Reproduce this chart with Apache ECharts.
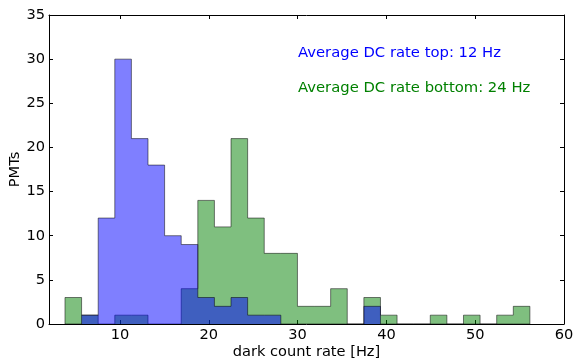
<!DOCTYPE html>
<html>
<head>
<meta charset="utf-8">
<script src="https://cdn.jsdelivr.net/npm/echarts@6/dist/echarts.min.js"></script>
<style>
  html, body { margin: 0; padding: 0; background: #fff; }
  #chart { width: 574px; height: 359px; }
</style>
</head>
<body>
<div id="chart"></div>
<script>
// Shared histogram bin edges (Hz)
const binEdges = [3.80, 5.67, 7.54, 9.41, 11.28, 13.15, 15.02, 16.89, 18.76, 20.63,
                  22.50, 24.37, 26.24, 28.11, 29.98, 31.85, 33.72, 35.59, 37.46, 39.33,
                  41.20, 43.07, 44.94, 46.81, 48.68, 50.55, 52.42, 54.29, 56.16];
// PMT counts per bin, top array
const topCounts = [0, 1, 12, 30, 21, 18, 10, 9, 3, 2, 3, 1, 1, 0, 0, 0, 0, 0, 2, 0,
                   0, 0, 0, 0, 0, 0, 0, 0];
// PMT counts per bin, bottom array
const bottomCounts = [3, 1, 0, 1, 1, 0, 0, 4, 14, 11, 21, 12, 8, 8, 2, 2, 4, 0, 3, 1,
                      0, 0, 1, 0, 1, 0, 1, 2];
const xTicks = [10, 20, 30, 40, 50, 60];
const annotations = ['Average DC rate top: 12 Hz', 'Average DC rate bottom: 24 Hz'];

// Outline of a step-filled histogram as points for a stepped line
function stepOutline(counts) {
  const pts = [[binEdges[0], 0]];
  for (let i = 0; i < counts.length; i++) pts.push([binEdges[i], counts[i]]);
  pts.push([binEdges[binEdges.length - 1], 0]);
  return pts;
}

const FONT = 'DejaVu Sans';
const AXIS_FS = 14.6;
const chart = echarts.init(document.getElementById('chart'), null, { renderer: 'canvas' });

const tickStyle = { show: true, inside: true, length: 4, lineStyle: { color: '#000', width: 1 } };
const lineStyle = { show: true, onZero: false, lineStyle: { color: '#000', width: 1 } };

chart.setOption({
  animation: false,
  grid: { left: 49, right: 10, top: 15, bottom: 35, containLabel: false, outerBoundsMode: 'none' },
  xAxis: [
    {
      type: 'value', min: 2, max: 60, position: 'bottom',
      name: 'dark count rate [Hz]', nameLocation: 'middle', nameGap: 21, nameMoveOverlap: false,
      nameTextStyle: { fontFamily: FONT, fontSize: AXIS_FS, color: '#000' },
      axisLine: lineStyle,
      axisTick: Object.assign({ customValues: xTicks }, tickStyle),
      axisLabel: { customValues: xTicks, fontFamily: FONT, fontSize: AXIS_FS, color: '#000', margin: 4 },
      splitLine: { show: false }
    },
    {
      type: 'value', min: 2, max: 60, position: 'top',
      axisLine: lineStyle,
      axisTick: Object.assign({ customValues: xTicks }, tickStyle),
      axisLabel: { show: false },
      splitLine: { show: false }
    }
  ],
  yAxis: [
    {
      type: 'value', min: 0, max: 35, interval: 5, position: 'left',
      name: 'PMTs', nameLocation: 'middle', nameGap: 26, nameRotate: 90, nameMoveOverlap: false,
      nameTextStyle: { fontFamily: FONT, fontSize: AXIS_FS, color: '#000' },
      axisLine: lineStyle,
      axisTick: tickStyle,
      axisLabel: { fontFamily: FONT, fontSize: AXIS_FS, color: '#000', margin: 4 },
      splitLine: { show: false }
    },
    {
      type: 'value', min: 0, max: 35, interval: 5, position: 'right',
      axisLine: lineStyle,
      axisTick: tickStyle,
      axisLabel: { show: false },
      splitLine: { show: false }
    }
  ],
  series: [
    {
      name: 'bottom', type: 'line', step: 'end', symbol: 'none', z: 2,
      data: stepOutline(bottomCounts),
      lineStyle: { color: 'rgba(0,0,0,0.5)', width: 1 },
      areaStyle: { color: 'rgba(0,128,0,0.5)', opacity: 1 }
    },
    {
      name: 'top', type: 'line', step: 'end', symbol: 'none', z: 3,
      data: stepOutline(topCounts),
      lineStyle: { color: 'rgba(0,0,0,0.5)', width: 1 },
      areaStyle: { color: 'rgba(0,0,255,0.5)', opacity: 1 }
    }
  ],
  graphic: [
    {
      type: 'text', left: 298, top: 46, z: 10,
      style: { text: annotations[0], fill: '#0000ff', font: '14.8px "DejaVu Sans"' }
    },
    {
      type: 'text', left: 298, top: 80.5, z: 10,
      style: { text: annotations[1], fill: '#008000', font: '14.8px "DejaVu Sans"' }
    }
  ]
});
</script>
</body>
</html>
